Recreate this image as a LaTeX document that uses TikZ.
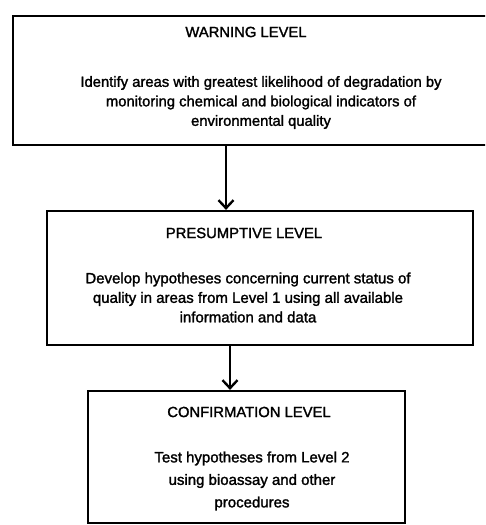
\documentclass[tikz,border=0pt]{standalone}
\usepackage{fontspec}
\setmainfont{Liberation Sans}[FakeBold=1.6]
\usetikzlibrary{arrows.meta}

\tikzset{
  levelbox/.style={draw=black, line width=2.2pt, rectangle, inner sep=0pt},
  title/.style={font=\fontsize{14.8}{18}\selectfont, inner sep=0pt},
  body/.style={align=center, inner sep=0pt},
  flow/.style={line width=2pt, -{Straight Barb[length=8pt,width=15pt,line width=2.4pt]}},
}

\begin{document}
\begin{tikzpicture}[x=1pt,y=1pt]
  \useasboundingbox (0,0) rectangle (485,525);
  \fill[white] (0,0) rectangle (485,525);
  \clip (0,0) rectangle (485,525);

  % level 1 box (runs off the right edge)
  \node[levelbox, minimum width=497pt, minimum height=129pt] (box1) at (261.5,444.5) {};
  \node[title] (t1) at (246,493) {WARNING LEVEL};
  \node[body, font=\fontsize{14.8}{19.5}\selectfont] (b1) at (261,422.5)
    {Identify areas with greatest likelihood of degradation by\\
     monitoring chemical and biological indicators of\\
     environmental quality};

  % level 2 box
  \node[levelbox, minimum width=426pt, minimum height=134pt] (box2) at (260,247) {};
  \node[title] (t2) at (244,292) {PRESUMPTIVE LEVEL};
  \node[body, font=\fontsize{15}{19.5}\selectfont] (b2) at (248,227.5)
    {Develop hypotheses concerning current status of\\
     quality in areas from Level 1 using all available\\
     information and data};

  % level 3 box
  \node[levelbox, minimum width=317pt, minimum height=132pt] (box3) at (246.5,68) {};
  \node[title] (t3) at (249,113) {CONFIRMATION LEVEL};
  \node[body, font=\fontsize{15}{22.5}\selectfont] (b3) at (252,44)
    {Test hypotheses from Level 2\\
     using bioassay and other\\
     procedures};

  % connectors between levels
  \coordinate (c1) at (226,0);
  \coordinate (c2) at (230,0);
  \draw[flow] (box1.south -| c1) -- (box2.north -| c1);
  \draw[flow] (box2.south -| c2) -- (box3.north -| c2);
\end{tikzpicture}
\end{document}
